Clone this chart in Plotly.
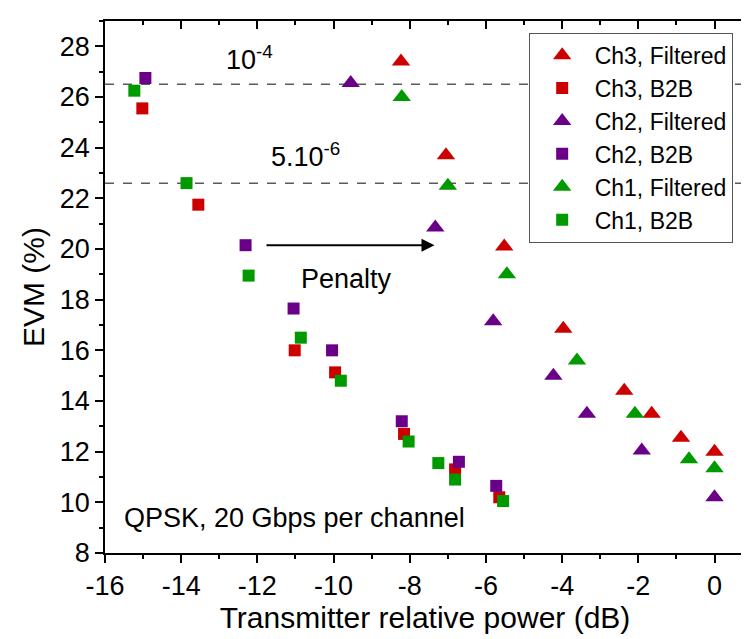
import plotly.graph_objects as go

# Ch3 / Ch2 / Ch1, filtered (triangles) and back-to-back (squares)
ch3_filt_x = [-8.23, -7.05, -5.52, -3.97, -2.37, -1.65, -0.88, 0.0]
ch3_filt_y = [27.4, 23.7, 20.1, 16.85, 14.4, 13.5, 12.55, 12.0]
ch3_b2b_x = [-15.02, -13.55, -11.02, -9.96, -8.15, -6.81, -5.65]
ch3_b2b_y = [25.55, 21.75, 16.0, 15.13, 12.7, 11.3, 10.2]

ch2_filt_x = [-9.55, -7.33, -5.81, -4.23, -3.35, -1.91, 0.0]
ch2_filt_y = [26.55, 20.85, 17.15, 15.0, 13.5, 12.05, 10.2]
ch2_b2b_x = [-14.94, -12.31, -11.05, -10.04, -8.21, -6.71, -5.73]
ch2_b2b_y = [26.75, 20.15, 17.65, 16.0, 13.2, 11.6, 10.65]

ch1_filt_x = [-8.21, -7.0, -5.45, -3.61, -2.09, -0.67, 0.0]
ch1_filt_y = [26.0, 22.5, 19.0, 15.6, 13.5, 11.7, 11.35]
ch1_b2b_x = [-15.23, -13.86, -12.23, -10.86, -9.81, -8.03, -7.25, -6.81, -5.55]
ch1_b2b_y = [26.25, 22.6, 18.95, 16.5, 14.8, 12.4, 11.55, 10.9, 10.05]

# BER threshold lines
thresholds = [26.5, 22.6]

x_ticks = [-16, -14, -12, -10, -8, -6, -4, -2, 0]
x_ticklabels = ["-16", "-14", "-12", "-10", "-8", "-6", "-4", "-2", "0"]
y_ticks = [8, 10, 12, 14, 16, 18, 20, 22, 24, 26, 28]

red = "#cc0000"
purple = "#6a0088"
green = "#009900"
font = "Liberation Sans, Arial, sans-serif"

fig = go.Figure()

for th in thresholds:
    fig.add_hline(y=th, line=dict(color="#5a5a5a", width=1.5, dash="dash"), layer="below")

series = [
    ("Ch3, Filtered", ch3_filt_x, ch3_filt_y, red, "triangle-up", 16),
    ("Ch3, B2B", ch3_b2b_x, ch3_b2b_y, red, "square", 12),
    ("Ch2, Filtered", ch2_filt_x, ch2_filt_y, purple, "triangle-up", 16),
    ("Ch2, B2B", ch2_b2b_x, ch2_b2b_y, purple, "square", 12),
    ("Ch1, Filtered", ch1_filt_x, ch1_filt_y, green, "triangle-up", 16),
    ("Ch1, B2B", ch1_b2b_x, ch1_b2b_y, green, "square", 12),
]
for name, xs, ys, col, sym, sz in series:
    fig.add_trace(go.Scatter(
        x=xs, y=ys, mode="markers", name=name,
        marker=dict(color=col, symbol=sym, size=sz, line=dict(width=0))
    ))

# text labels
ann_font = dict(size=27, color="black", family=font)
fig.add_annotation(x=-12.2, y=27.55, text="10<sup>-4</sup>", showarrow=False, font=ann_font)
fig.add_annotation(x=-10.75, y=23.7, text="5.10<sup>-6</sup>", showarrow=False, font=ann_font)
fig.add_annotation(x=-9.65, y=18.8, text="Penalty", showarrow=False, font=ann_font)
fig.add_annotation(x=-15.55, y=9.4, text="QPSK, 20 Gbps per channel", showarrow=False,
                   xanchor="left", font=ann_font)

# penalty arrow
fig.add_annotation(x=-7.35, y=20.15, ax=-11.8, ay=20.15, xref="x", yref="y",
                   axref="x", ayref="y", text="", showarrow=True,
                   arrowhead=2, arrowsize=1.3, arrowwidth=2, arrowcolor="black")

tick_font = dict(size=27, family=font, color="black")
fig.update_layout(
    width=749, height=639,
    margin=dict(l=97, r=2, t=13, b=94),
    plot_bgcolor="white", paper_bgcolor="white",
    font=dict(family=font, size=27, color="black"),
    legend=dict(x=0.662, y=0.978, xanchor="left", yanchor="top",
                bordercolor="#555555", borderwidth=1, bgcolor="white",
                font=dict(size=23), itemwidth=55, tracegroupgap=0),
    xaxis=dict(range=[-16, 0.8], tickvals=x_ticks, ticktext=x_ticklabels, tickfont=tick_font,
               showgrid=False, zeroline=False, showline=True, linecolor="black",
               linewidth=1.5, ticks="outside", ticklen=8, tickwidth=1.5, tickcolor="black",
               minor=dict(dtick=1, ticks="outside", ticklen=4, tickwidth=1.5, tickcolor="black"),
               title=dict(text="Transmitter relative power (dB)", font=dict(size=30), standoff=6)),
    xaxis2=dict(range=[-16, 0.8], overlaying="x", side="top", matches="x",
                tickvals=x_ticks, showticklabels=False, showgrid=False, zeroline=False,
                showline=True, linecolor="black", linewidth=1.5,
                ticks="inside", ticklen=8, tickwidth=1.5, tickcolor="black",
                minor=dict(dtick=1, ticks="inside", ticklen=4, tickwidth=1.5, tickcolor="black")),
    yaxis=dict(range=[8, 29], tickvals=y_ticks, tickfont=tick_font, showgrid=False, zeroline=False,
               showline=True, linecolor="black", linewidth=1.5, mirror="ticks",
               ticks="outside", ticklen=8, tickwidth=1.5, tickcolor="black",
               minor=dict(dtick=1, ticks="outside", ticklen=4, tickwidth=1.5, tickcolor="black"),
               title=dict(text="EVM (%)", font=dict(size=30), standoff=6)),
)
# invisible point so the top axis is drawn
fig.add_trace(go.Scatter(x=[-16], y=[8], xaxis="x2", mode="markers",
                         marker=dict(opacity=0), showlegend=False, hoverinfo="skip"))

fig.write_html("out.html")
